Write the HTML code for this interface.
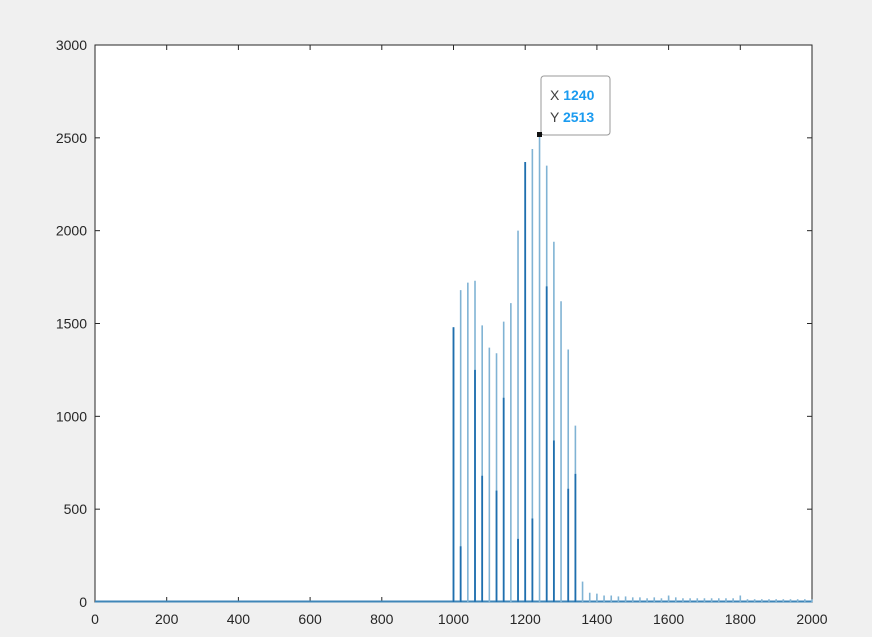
<!DOCTYPE html>
<html><head><meta charset="utf-8"><style>
body{margin:0;background:#f0f0f0;}
svg{display:block;font-family:"Liberation Sans",sans-serif;}
</style></head><body>
<svg width="872" height="637">
<rect x="0" y="0" width="872" height="637" fill="#f0f0f0"/>
<rect x="95" y="45" width="717" height="557" fill="#fff" stroke="#262626" stroke-width="1"/>
<g id="ticks"></g>
<g id="stems"></g>
<g>
<line x1="540" y1="135" x2="545" y2="130" stroke="#888"/>
<rect x="541" y="76" width="69" height="59" rx="3" fill="#fff" stroke="#999"/>
<rect x="537" y="132" width="5" height="5" fill="#111"/>
<text x="550" y="100" font-size="14" fill="#404040">X <tspan fill="#1a9bf0" font-weight="bold">1240</tspan></text>
<text x="550" y="122" font-size="14" fill="#404040">Y <tspan fill="#1a9bf0" font-weight="bold">2513</tspan></text>
</g>
</svg>
<script>
const xPositions=[1000,1020,1040,1060,1080,1100,1120,1140,1160,1180,1200,1220,1240,1260,1280,1300,1320,1340,1360,1380,1400,1420,1440,1460,1480,1500,1520,1540,1560,1580,1600,1620,1640,1660,1680,1700,1720,1740,1760,1780,1800,1820,1840,1860,1880,1900,1920,1940,1960,1980,2000];
const outerValues=[1480,1680,1720,1730,1490,1370,1340,1510,1610,2000,2370,2440,2513,2350,1940,1620,1360,950,110,50,45,35,35,30,30,25,25,20,25,20,35,25,20,20,20,20,20,20,20,20,35,15,15,15,15,15,15,15,15,15,15];
const innerValues=[1480,300,0,1250,680,0,600,1100,0,340,2370,450,0,1700,870,0,610,690,0,0,0,0,0,0,0,0,0,0,0,0,0,0,0,0,0,0,0,0,0,0,0,0,0,0,0,0,0,0,0,0,0];
const xTicks=[0,200,400,600,800,1000,1200,1400,1600,1800,2000];
const yTicks=[0,500,1000,1500,2000,2500,3000];
const NS="http://www.w3.org/2000/svg";
const X=v=>95+v*717/2000, Y=v=>602-v*557/3000;
const axes=document.getElementById('ticks'), stems=document.getElementById('stems');
function mk(t,a,p){const e=document.createElementNS(NS,t);for(const k in a)e.setAttribute(k,a[k]);p.appendChild(e);return e;}
xTicks.forEach(t=>{
 mk('line',{x1:X(t),x2:X(t),y1:602,y2:597,stroke:'#262626'},axes);
 mk('line',{x1:X(t),x2:X(t),y1:45,y2:50,stroke:'#262626'},axes);
 const e=mk('text',{x:X(t),y:624,'font-size':14,'text-anchor':'middle',fill:'#262626'},axes);e.textContent=t;
 
 
});
yTicks.forEach(t=>{
 mk('line',{x1:95,x2:100,y1:Y(t),y2:Y(t),stroke:'#262626'},axes);
 mk('line',{x1:812,x2:807,y1:Y(t),y2:Y(t),stroke:'#262626'},axes);
 const e=mk('text',{x:87,y:Y(t)+5,'font-size':14,'text-anchor':'end',fill:'#262626'},axes);e.textContent=t;
 
 
});
mk('line',{x1:95,x2:812,y1:601.5,y2:601.5,stroke:'#3f86b8','stroke-width':2},stems);
xPositions.forEach((x,i)=>{
 const o=mk('line',{x1:X(x),x2:X(x),y1:Y(0),y2:Y(outerValues[i]),stroke:'#80b3d4','stroke-width':1.6},stems);
 
 
 if(innerValues[i]>0){
  const n=mk('line',{x1:X(x),x2:X(x),y1:Y(0),y2:Y(innerValues[i]),stroke:'#1f6fae','stroke-width':1.8},stems);
  
  
 }
});
</script>
</body></html>
